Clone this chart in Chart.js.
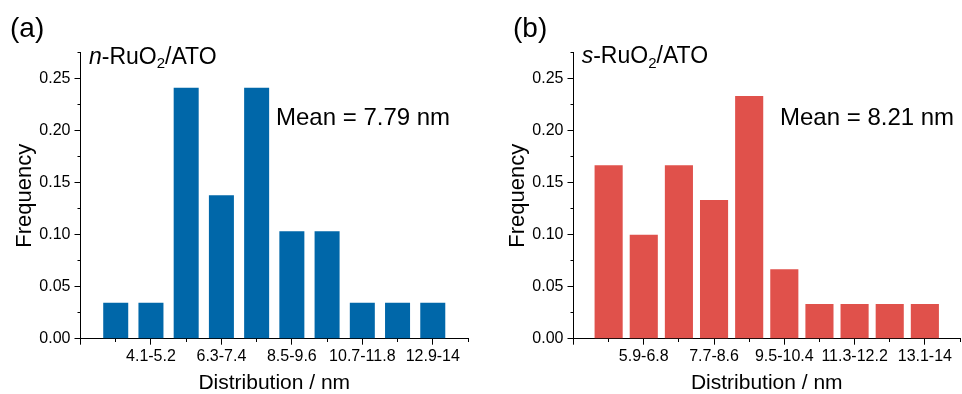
<!DOCTYPE html>
<html><head><meta charset="utf-8">
<script src="https://cdn.jsdelivr.net/npm/chart.js@4/dist/chart.umd.min.js"></script>
<style>
html,body{margin:0;padding:0;background:#fff;overflow:hidden;width:962px;height:394px;}
canvas{position:absolute;top:0;}
#ca{left:0}
#cb{left:493px}
</style></head><body>
<canvas id="ca" width="470" height="394"></canvas>
<canvas id="cb" width="469" height="394"></canvas>
<script>
// ---- data ----
const binsA = ['3.0-4.1','4.1-5.2','5.2-6.3','6.3-7.4','7.4-8.5','8.5-9.6','9.6-10.7','10.7-11.8','11.8-12.9','12.9-14'];
const freqA = [0.0345,0.0345,0.2414,0.1379,0.2414,0.1034,0.1034,0.0345,0.0345,0.0345];
const binsB = ['5.0-5.9','5.9-6.8','6.8-7.7','7.7-8.6','8.6-9.5','9.5-10.4','10.4-11.3','11.3-12.2','12.2-13.1','13.1-14'];
const freqB = [0.1667,0.1000,0.1667,0.1333,0.2333,0.0667,0.0333,0.0333,0.0333,0.0333];
const panelLetters = ['(a)','(b)'];
const sampleA = ['n','-RuO','2','/ATO'];
const sampleB = ['s','-RuO','2','/ATO'];
const meanTexts = ['Mean = 7.79 nm','Mean = 8.21 nm'];
const xTitle = 'Distribution / nm';
const yTitle = 'Frequency';

const FAM = '"Liberation Sans", Arial, sans-serif';
Chart.defaults.font.family = FAM;
Chart.defaults.color = '#000';

const annot = {
  id: 'annot',
  afterDraw(chart, args, o) {
    const ctx = chart.ctx;
    ctx.save();
    ctx.fillStyle = '#000';
    ctx.textBaseline = 'alphabetic';
    ctx.textAlign = 'left';
    ctx.font = '28px ' + FAM;
    ctx.fillText(o.letter, o.letterX, o.letterY);
    let x = o.nameX; const y = o.nameY;
    ctx.font = 'italic 23px ' + FAM;
    ctx.fillText(o.name[0], x, y); x += ctx.measureText(o.name[0]).width;
    ctx.font = '23px ' + FAM;
    ctx.fillText(o.name[1], x, y); x += ctx.measureText(o.name[1]).width;
    ctx.font = '15px ' + FAM;
    ctx.fillText(o.name[2], x, y + 4.5); x += ctx.measureText(o.name[2]).width;
    ctx.font = '23px ' + FAM;
    ctx.fillText(o.name[3], x, y);
    ctx.font = '24px ' + FAM;
    ctx.fillText(o.mean, o.meanX, o.meanY);
    ctx.restore();
  }
};

function makeChart(id, bins, freq, color, barPct, ann) {
  const pts = freq.map((v, i) => ({x: i + 1, y: v}));
  return new Chart(document.getElementById(id), {
    type: 'bar',
    data: {datasets: [{data: pts, backgroundColor: color, borderWidth: 0,
      barPercentage: barPct, categoryPercentage: 1}]},
    options: {
      responsive: false, animation: false, devicePixelRatio: 1,
      layout: {padding: {left: 0, right: 2, top: 52.7, bottom: 0}},
      plugins: {legend: {display: false}, tooltip: {enabled: false}, annot: ann},
      scales: {
        x: {
          type: 'linear', min: 0, max: 11, z: 1, offset: false,
          afterFit(s) { s.height = 394 - 338.7; },
          grid: {offset: false, drawOnChartArea: false, drawTicks: true, tickLength: 6, tickColor: '#000', tickWidth: 1,
            tickBorderDash: c => (c.index % 2 ? [3, 20] : [])},
          border: {display: true, color: '#000', width: 1},
          ticks: {stepSize: 1, autoSkip: false, maxRotation: 0, padding: 2, color: '#000',
            font: {size: 16},
            callback: (v, i) => (i % 2 === 0 && i >= 2 && i <= 10) ? bins[i - 1] : ''},
          title: {display: true, text: xTitle, color: '#000', font: {size: 21, lineHeight: 1},
            padding: {top: 0, bottom: 0}}
        },
        y: {
          min: 0, max: 0.275, z: 1,
          afterFit(s) { s.width = 80.5; },
          grid: {drawOnChartArea: false, drawTicks: true, tickLength: 6, tickColor: '#000', tickWidth: 1,
            tickBorderDash: c => (c.index % 2 ? [3, 3] : []),
            tickBorderDashOffset: c => (c.index % 2 ? 3 : 0)},
          border: {display: true, color: '#000', width: 1},
          ticks: {stepSize: 0.025, autoSkip: false, padding: 4, color: '#000', font: {size: 16},
            callback: (v, i) => (i % 2 === 0) ? v.toFixed(2) : ''},
          title: {display: true, text: yTitle, color: '#000', font: {size: 22, lineHeight: 1},
            padding: {top: 14, bottom: 0}}
        }
      }
    },
    plugins: [annot]
  });
}

makeChart('ca', binsA, freqA, '#0067a9', 0.71,
  {letter: panelLetters[0], letterX: 10, letterY: 37, name: sampleA, nameX: 89, nameY: 63.5,
   mean: meanTexts[0], meanX: 276, meanY: 125});
makeChart('cb', binsB, freqB, '#e0514b', 0.80,
  {letter: panelLetters[1], letterX: 20, letterY: 37, name: sampleB, nameX: 88.7, nameY: 63,
   mean: meanTexts[1], meanX: 287, meanY: 125});
</script>
</body></html>
